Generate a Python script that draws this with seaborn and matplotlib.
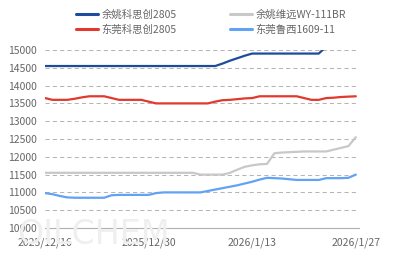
import numpy as np
import pandas as pd
import matplotlib
matplotlib.use("Agg")
import matplotlib.pyplot as plt
import matplotlib.dates as mdates
from matplotlib.lines import Line2D
import seaborn as sns

dates = pd.date_range("2025-12-16", "2026-01-27", freq="D")

yy_ksc = [14550] * 24 + [14620, 14700, 14770, 14840, 14900] + [14900] * 9 + [15100] * 5
yy_wy = ([11550] * 21 + [11500] * 4 +
         [11550, 11640, 11720, 11760, 11790, 11800, 12100, 12120, 12130, 12140,
          12150, 12150, 12150, 12150, 12200, 12250, 12300, 12550])
dg_ksc = ([13650, 13600, 13600, 13600, 13630, 13670, 13700, 13700, 13700, 13650,
           13600, 13600, 13600, 13600, 13550, 13500] + [13500] * 7 +
          [13550, 13590, 13600, 13620, 13640, 13650] + [13700] * 6 +
          [13650, 13600, 13600, 13650, 13660, 13680, 13690, 13700])
dg_lx = ([10980, 10950, 10900, 10860] + [10850] * 5 + [10920] + [10930] * 5 +
         [10980] + [11000] * 6 +
         [11040, 11080, 11120, 11160, 11200, 11250, 11300, 11360, 11410, 11400,
          11390, 11370, 11350, 11350, 11350, 11350, 11400, 11400, 11400, 11410, 11500])

series_names = ["余姚科思创2805", "余姚维远WY-111BR", "东莞科思创2805", "东莞鲁西1609-11"]
series_vals = [yy_ksc, yy_wy, dg_ksc, dg_lx]
colors = ["#1d4c9c", "#c8c8c8", "#e0392e", "#62a2f5"]

tick_dates = pd.to_datetime(["2025-12-16", "2025-12-30", "2026-01-13", "2026-01-27"])
tick_labels = ["2025/12/16", "2025/12/30", "2026/1/13", "2026/1/27"]
y_ticks = list(range(10000, 15001, 500))

df = pd.DataFrame({"date": np.tile(dates, 4),
                   "value": np.concatenate(series_vals),
                   "series": np.repeat(series_names, len(dates))})

sns.set_theme(style="white")
plt.rcParams["font.family"] = ["Noto Sans CJK SC", "DejaVu Sans"]
plt.rcParams["axes.unicode_minus"] = False

W, H = 397, 265
fig = plt.figure(figsize=(W / 100, H / 100), dpi=100)
ax = fig.add_axes([45 / W, 1 - 228 / H, (359 - 45) / W, (228 - 50) / H])

# watermark
fig.text(17 / W, 1 - 244 / H, "OILCHEM", fontsize=24, color="#efefef",
         family=["Liberation Sans Narrow", "DejaVu Sans"], ha="left", va="baseline",
         zorder=0)
ax.patch.set_alpha(0)

sns.lineplot(data=df, x="date", y="value", hue="series", hue_order=series_names,
             palette=colors, linewidth=1.6, ax=ax, legend=False, zorder=3)

ax.set_ylim(10000, 15000)
ax.set_xlim(mdates.date2num(dates[0]), mdates.date2num(dates[-1]) + 0.43)
ax.set_yticks(y_ticks)
ax.set_yticklabels([str(v) for v in y_ticks])
ax.set_xticks(tick_dates)
ax.set_xticklabels(tick_labels)
ax.set_xlabel("")
ax.set_ylabel("")

for v in y_ticks[1:]:
    ax.axhline(v, color="#b5b5b5", linewidth=0.75, linestyle=(0, (4, 3)), zorder=1)

for s in ["left", "top", "right"]:
    ax.spines[s].set_visible(False)
ax.spines["bottom"].set_color("#b0b0b0")
ax.spines["bottom"].set_linewidth(0.8)

ax.tick_params(axis="y", length=0, pad=6, labelsize=7.5, labelcolor="#666666")
ax.tick_params(axis="x", direction="in", length=3, width=0.8, color="#b0b0b0",
               pad=7, labelsize=7.5, labelcolor="#666666")

# legend in row-major order (matplotlib fills columns first)
order = [0, 2, 1, 3]
handles = [Line2D([], [], color=colors[i], linewidth=2.2) for i in order]
labels = [series_names[i] for i in order]
leg = fig.legend(handles, labels, loc="upper left", ncol=2,
                 bbox_to_anchor=(76 / W, 1 - 9.5 / H), frameon=False,
                 fontsize=7.5, handlelength=2.1, handletextpad=0.35,
                 columnspacing=5.1, labelspacing=0.4, borderpad=0, borderaxespad=0)
for t in leg.get_texts():
    t.set_color("#666666")

fig.savefig("out.png", dpi=100)
